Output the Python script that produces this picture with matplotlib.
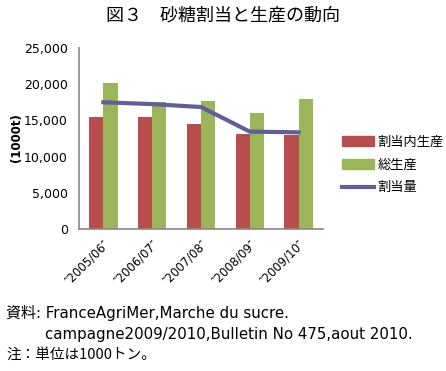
import matplotlib
matplotlib.use("Agg")
import matplotlib.pyplot as plt
import numpy as np
from matplotlib.patches import Patch
from matplotlib.lines import Line2D

plt.rcParams['font.family'] = ['DejaVu Sans', 'Noto Sans CJK JP']
JP = ['Noto Sans CJK JP', 'DejaVu Sans']

seasons = ["″2005/06″", "″2006/07″", "″2007/08″", "″2008/09″", "″2009/10″"]
quota_prod = [15450, 15450, 14500, 13100, 13050]
total_prod = [20150, 17550, 17700, 16000, 17950]
quota = [17500, 17250, 16850, 13450, 13350]

RED = "#B94D4B"
GREEN = "#9BB65A"
LINE = "#5E5F9B"

fig = plt.figure(figsize=(4.46, 3.71), dpi=100)
ax = fig.add_axes([79 / 446, 1 - 229 / 371, 244 / 446, 181 / 371])

x = np.arange(len(seasons))
w = 0.29
ax.bar(x - w / 2, quota_prod, w, color=RED)
ax.bar(x + w / 2, total_prod, w, color=GREEN)
ax.plot(x, quota, color=LINE, linewidth=3)

ax.set_xlim(-0.5, 4.5)
ax.set_ylim(0, 25000)
ax.set_yticks(range(0, 25001, 5000))
ax.set_yticklabels([f"{v:,}" for v in range(0, 25001, 5000)], fontsize=9)
ax.set_xticks(x)
ax.set_xticklabels(seasons, rotation=45, ha="right", rotation_mode="anchor", fontsize=8.5)
ax.tick_params(axis="y", length=0, pad=8)
ax.tick_params(axis="x", length=0, pad=6)
for s in ["top", "right"]:
    ax.spines[s].set_visible(False)
for s in ["left", "bottom"]:
    ax.spines[s].set_color("#888888")
    ax.spines[s].set_linewidth(1.2)

fig.text(17 / 446, 1 - 138 / 371, "(1000t)", rotation=90, ha="center", va="center",
         fontsize=8.5, fontweight="bold")

fig.text(0.5, 1 - 16 / 371, "図３　砂糖割当と生産の動向", ha="center", va="center",
         fontsize=13, family=JP)

handles = [Patch(color=RED), Patch(color=GREEN), Line2D([0], [0], color=LINE, linewidth=3)]
fig.legend(handles, ["割当内生産", "総生産", "割当量"], loc="center left",
           bbox_to_anchor=(330 / 446, 1 - 165 / 371), frameon=False,
           prop={'family': JP, 'size': 9.5},
           handlelength=2.4, handletextpad=0.3, labelspacing=0.75)

fig.text(6 / 446, 1 - 313 / 371, "資料: FranceAgriMer,Marche du sucre.", fontsize=10.8, va="center")
fig.text(45 / 446, 1 - 334 / 371, "campagne2009/2010,Bulletin No 475,aout 2010.", fontsize=10.8, va="center")
fig.text(6 / 446, 1 - 355 / 371, "注：単位は1000トン。", fontsize=10.5, va="center", family=JP)

fig.savefig("out.png", dpi=100, facecolor="white")
